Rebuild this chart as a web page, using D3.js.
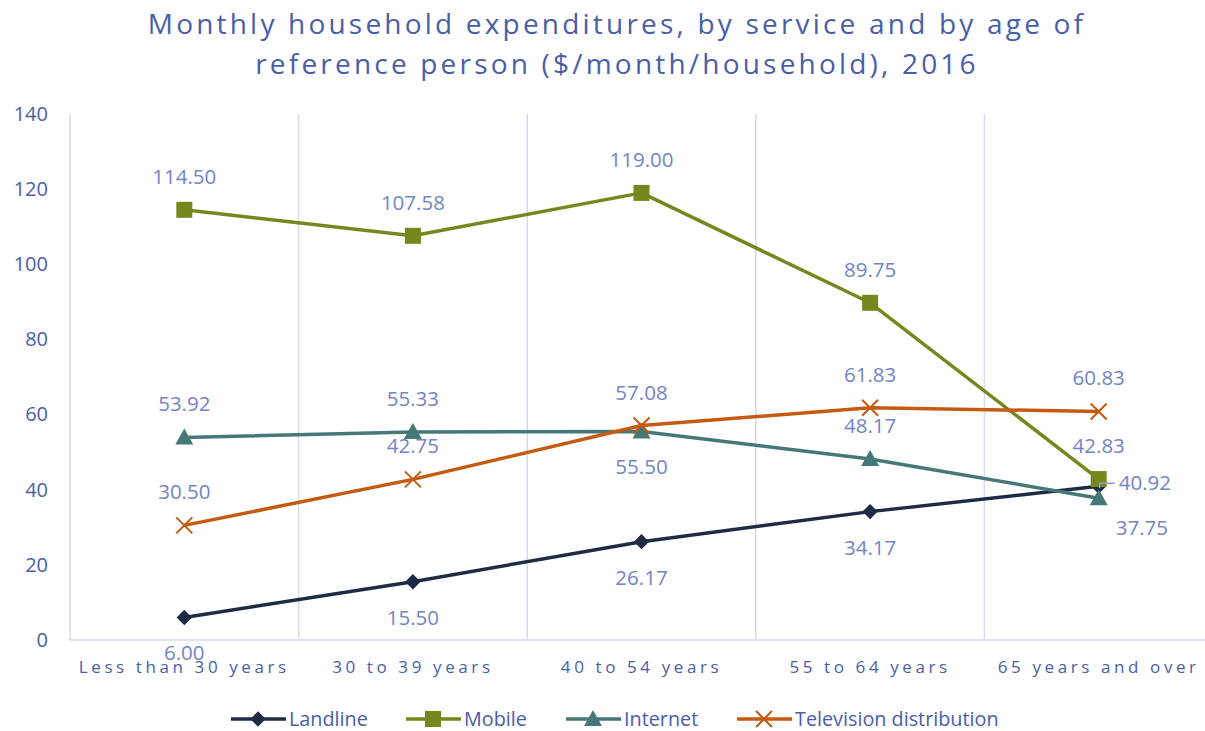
<!DOCTYPE html>
<html>
<head>
<meta charset="utf-8">
<script src="https://cdn.jsdelivr.net/npm/d3@7"></script>
<style>
  body { margin: 0; background: #fff; }
  text { font-family: "Open Sans", sans-serif; }
</style>
</head>
<body>
<div id="chart"></div>
<script>
var categories = ["Less than 30 years", "30 to 39 years", "40 to 54 years", "55 to 64 years", "65 years and over"];
var landline = [6.00, 15.50, 26.17, 34.17, 40.92];
var mobile = [114.50, 107.58, 119.00, 89.75, 42.83];
var internet = [53.92, 55.33, 55.50, 48.17, 37.75];
var television = [30.50, 42.75, 57.08, 61.83, 60.83];
var yTicks = [0, 20, 40, 60, 80, 100, 120, 140];

// label placement per point: a = above, b = below, r = right, br = below right
var series = [
    {name: "Landline", values: landline, color: "#1f2a44", marker: "diamond", pos: ["b", "b", "b", "b", "r"]},
    {name: "Mobile", values: mobile, color: "#76871d", marker: "square", pos: ["a", "a", "a", "a", "a"]},
    {name: "Internet", values: internet, color: "#467878", marker: "triangle", pos: ["a", "a", "b", "a", "br"]},
    {name: "Television distribution", values: television, color: "#c55a11", marker: "cross", pos: ["a", "a", "a", "a", "a"]}
];

var W = 1205, H = 731;
var margin = {top: 114, right: -8, bottom: 91, left: 70},
    width = W - margin.left - margin.right,
    height = H - margin.top - margin.bottom;

var svg = d3.select("#chart").append("svg")
    .attr("width", W)
    .attr("height", H);

svg.append("text")
    .attr("x", 617).attr("y", 34)
    .attr("text-anchor", "middle")
    .style("font-size", "28px").style("letter-spacing", "3.2px")
    .style("fill", "#4a5ea8")
    .text("Monthly household expenditures, by service and by age of");
svg.append("text")
    .attr("x", 617).attr("y", 74)
    .attr("text-anchor", "middle")
    .style("font-size", "28px").style("letter-spacing", "3.2px")
    .style("fill", "#4a5ea8")
    .text("reference person ($/month/household), 2016");

var g = svg.append("g")
    .attr("transform", "translate(" + margin.left + "," + margin.top + ")");

var x = d3.scaleBand().domain(categories).range([0, width]);
var y = d3.scaleLinear().domain([0, 140]).range([height, 0]);

// vertical gridlines at band edges
g.append("g")
    .selectAll("line")
    .data(d3.range(categories.length + 1))
    .enter()
    .append("line")
    .attr("x1", d => d * x.step())
    .attr("x2", d => d * x.step())
    .attr("y1", 0)
    .attr("y2", height)
    .style("stroke", "#d6dbee")
    .style("stroke-width", 1.5);

g.append("line")
    .attr("x1", 0).attr("x2", width)
    .attr("y1", height).attr("y2", height)
    .style("stroke", "#d6dbee")
    .style("stroke-width", 1.5);

var yAxis = d3.axisLeft(y).tickValues(yTicks).tickSize(0).tickPadding(22);
g.append("g")
    .attr("class", "y-axis")
    .call(yAxis)
    .call(a => a.select(".domain").remove())
    .selectAll("text")
    .style("font-size", "20px")
    .style("fill", "#4a5ea8")
    .style("font-family", "Open Sans, sans-serif");

var xAxis = d3.axisBottom(x).tickSize(0).tickPadding(21);
g.append("g")
    .attr("class", "x-axis")
    .attr("transform", "translate(0," + height + ")")
    .call(xAxis)
    .call(a => a.select(".domain").remove())
    .selectAll("text")
    .style("font-size", "17px")
    .style("letter-spacing", "3.6px")
    .style("fill", "#4a5ea8")
    .style("font-family", "Open Sans, sans-serif");

var cx = d => x(d) + x.bandwidth() / 2;

var line = d3.line()
    .x((d, i) => cx(categories[i]))
    .y(d => y(d));

function drawMarker(sel, type, color, px, py) {
    if (type === "diamond") {
        sel.append("path").attr("d", d3.symbol().type(d3.symbolDiamond2).size(150)())
            .attr("transform", "translate(" + px + "," + py + ")")
            .style("fill", color);
    } else if (type === "square") {
        sel.append("rect").attr("x", px - 8).attr("y", py - 8)
            .attr("width", 16).attr("height", 16).style("fill", color);
    } else if (type === "triangle") {
        sel.append("path").attr("d", "M" + px + "," + (py - 9) + "L" + (px + 9) + "," + (py + 7) + "L" + (px - 9) + "," + (py + 7) + "Z")
            .style("fill", color);
    } else if (type === "cross") {
        sel.append("path").attr("d", "M" + (px - 8) + "," + (py - 8) + "L" + (px + 8) + "," + (py + 8) + "M" + (px + 8) + "," + (py - 8) + "L" + (px - 8) + "," + (py + 8))
            .style("stroke", color).style("stroke-width", 2).style("fill", "none");
    }
}

series.forEach(s => {
    g.append("path")
        .datum(s.values)
        .attr("d", line)
        .style("fill", "none")
        .style("stroke", s.color)
        .style("stroke-width", 3.5)
        .style("stroke-linejoin", "round");
});

series.forEach(s => {
    var mg = g.append("g");
    s.values.forEach((v, i) => drawMarker(mg, s.marker, s.color, cx(categories[i]), y(v)));
});

// data labels
series.forEach(s => {
    s.values.forEach((v, i) => {
        var px = cx(categories[i]), py = y(v);
        var p = s.pos[i];
        var tx = px, ty = py, anchor = "middle";
        if (p === "a") { ty = py - 26; }
        else if (p === "b") { ty = py + 43; }
        else if (p === "r") { tx = px + 20; ty = py + 4; anchor = "start"; }
        else if (p === "br") { tx = px + 17; ty = py + 37; anchor = "start"; }
        if (p === "r") {
            g.append("path")
                .attr("d", "M" + (px + 1) + "," + (py + 2) + "V" + (py - 3) + "H" + (px + 16))
                .style("stroke", "#8c9bd0").style("stroke-width", 1.5).style("fill", "none");
        }
        g.append("text")
            .attr("x", tx).attr("y", ty)
            .attr("text-anchor", anchor)
            .style("font-size", "20.5px")
            .style("fill", "#7384c4")
            .text(v.toFixed(2));
    });
});

// legend
var legendX = [231, 406, 566, 737];
var legend = svg.append("g");
series.forEach((s, i) => {
    var lx = legendX[i], ly = 719;
    legend.append("line")
        .attr("x1", lx).attr("x2", lx + 55)
        .attr("y1", ly).attr("y2", ly)
        .style("stroke", s.color).style("stroke-width", 3.5);
    drawMarker(legend, s.marker, s.color, lx + 27, ly);
    legend.append("text")
        .attr("x", lx + 58).attr("y", ly + 7)
        .style("font-size", "19.8px")
        .style("fill", "#4a5ea8")
        .text(s.name);
});
</script>
</body>
</html>
